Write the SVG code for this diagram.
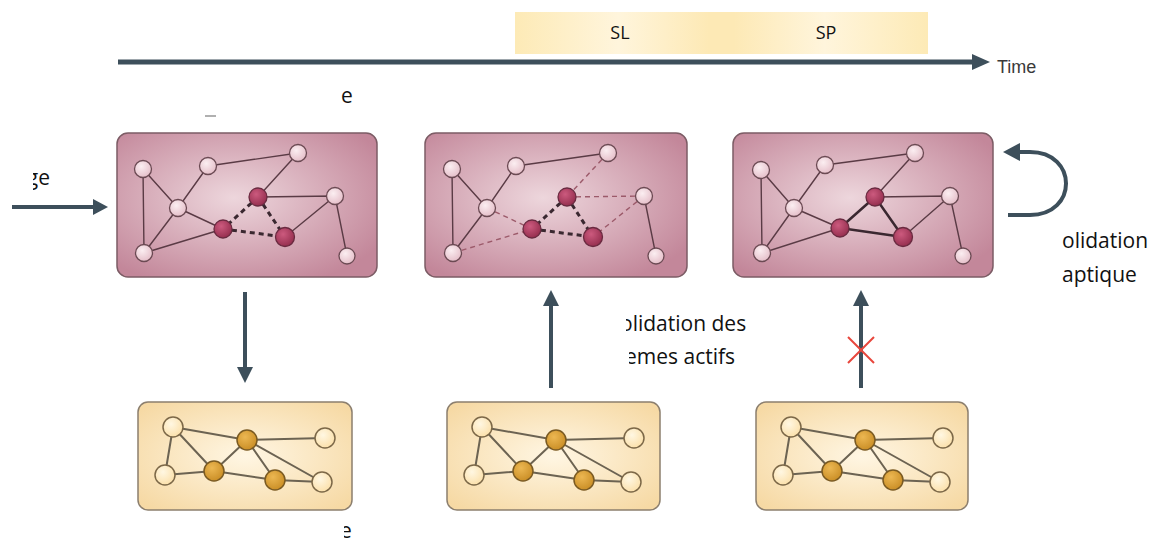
<svg xmlns="http://www.w3.org/2000/svg" width="1157" height="540" viewBox="0 0 1157 540">
<style>
  .lbl{font-family:"Open Sans","Liberation Sans",sans-serif;font-size:21px;fill:#111}
  .band{font-family:"Open Sans","Liberation Sans",sans-serif;font-size:18px;fill:#111;text-anchor:middle}
  .time{font-family:"Liberation Sans",Arial,sans-serif;font-size:18px;fill:#3a3a3a}
  .pbox{fill:url(#pinkBox);stroke:#7c5c65;stroke-width:1.5}
  .ybox{fill:url(#yelBox);stroke:#8c7f6e;stroke-width:1.5}
  .e{stroke:#5a3b45;stroke-width:1.4;fill:none}
  .ed{stroke:#9c5a6a;stroke-width:1.4;stroke-dasharray:5 4;fill:none}
  .eT{stroke:#3a2830;stroke-width:3;stroke-dasharray:5 4;fill:none}
  .eS{stroke:#3a2830;stroke-width:2.5;fill:none}
  .nl{fill:url(#pinkNode);stroke:#6b4a53;stroke-width:1.3}
  .nd{fill:url(#darkNode);stroke:#6a2a40;stroke-width:1.3}
  .ye{stroke:#6c6352;stroke-width:2;fill:none}
  .yl{fill:url(#yelNode);stroke:#7c6848;stroke-width:1.5}
  .yd{fill:url(#goldNode);stroke:#7a5a22;stroke-width:1.5}
  .arr{stroke:#3d4f5b;stroke-width:4;fill:none}
  .head{fill:#3d4f5b}
</style>
<defs>
  <radialGradient id="pinkBox" cx="0.45" cy="0.45" r="0.65">
    <stop offset="0" stop-color="#edd6dc"/>
    <stop offset="1" stop-color="#c3879a"/>
  </radialGradient>
  <radialGradient id="yelBox" cx="0.5" cy="0.5" r="0.65">
    <stop offset="0" stop-color="#fff6e3"/>
    <stop offset="1" stop-color="#f6d9a4"/>
  </radialGradient>
  <radialGradient id="pinkNode" cx="0.4" cy="0.35" r="0.7">
    <stop offset="0" stop-color="#fbeef1"/>
    <stop offset="1" stop-color="#e4bcc7"/>
  </radialGradient>
  <radialGradient id="darkNode" cx="0.4" cy="0.35" r="0.7">
    <stop offset="0" stop-color="#cc5a7e"/>
    <stop offset="1" stop-color="#922c4c"/>
  </radialGradient>
  <radialGradient id="yelNode" cx="0.4" cy="0.35" r="0.7">
    <stop offset="0" stop-color="#fff7e2"/>
    <stop offset="1" stop-color="#fbdfa8"/>
  </radialGradient>
  <radialGradient id="goldNode" cx="0.4" cy="0.35" r="0.7">
    <stop offset="0" stop-color="#ecb752"/>
    <stop offset="1" stop-color="#c88c24"/>
  </radialGradient>
  <linearGradient id="bandG" x1="0" y1="0" x2="1" y2="0">
    <stop offset="0" stop-color="#fdeab6"/>
    <stop offset="0.25" stop-color="#fff5dc"/>
    <stop offset="0.47" stop-color="#fde9b5"/>
    <stop offset="0.53" stop-color="#fde9b5"/>
    <stop offset="0.75" stop-color="#fff5dc"/>
    <stop offset="1" stop-color="#fdeab6"/>
  </linearGradient>
  <clipPath id="cGe"><rect x="33" y="150" width="40" height="50"/></clipPath>
  <clipPath id="cOl"><rect x="626" y="300" width="140" height="40"/></clipPath>
  <clipPath id="cEm"><rect x="629" y="340" width="140" height="40"/></clipPath>
  <clipPath id="cBe"><rect x="344" y="515" width="20" height="25"/></clipPath>
</defs>

<g id="timeline">
  <rect x="515" y="12" width="413" height="42" fill="url(#bandG)"/>
  <text class="band" x="620" y="39">SL</text>
  <text class="band" x="826" y="39">SP</text>
  <line x1="118" y1="62" x2="976" y2="62" stroke="#3d4f5b" stroke-width="5"/>
  <polygon class="head" points="990,62 972,54 972,70"/>
  <text class="time" x="997" y="73">Time</text>
</g>

<g id="labels">
  <text class="lbl" x="341" y="103">e</text>
  <line x1="205" y1="116" x2="216" y2="116" stroke="#b0b0b0" stroke-width="2"/>
  <text class="lbl" x="50" y="185" text-anchor="end" clip-path="url(#cGe)">ge</text>
  <text class="lbl" x="1062" y="248">olidation</text>
  <text class="lbl" x="1062" y="282">aptique</text>
  <text class="lbl" x="620" y="331" clip-path="url(#cOl)">olidation des</text>
  <text class="lbl" x="625" y="364" clip-path="url(#cEm)">emes actifs</text>
  <text class="lbl" x="340" y="538" clip-path="url(#cBe)">e</text>
</g>

<g id="box1" transform="translate(117,133)">
  <rect class="pbox" x="0" y="0" width="260" height="144" rx="11"/>
  <path class="e" d="M26 36L27 120M26 36L61 75M61 75L27 120M91 33L61 75M91 33L181 20M181 20L141 64M141 64L218 63M218 63L168 104M218 63L230 123M61 75L106 96M27 120L106 96"/>
  <path class="eT" d="M141 64L106 96M141 64L168 104M106 96L168 104"/>
  <circle class="nl" cx="26" cy="36" r="8.5"/><circle class="nl" cx="91" cy="33" r="8.5"/>
  <circle class="nl" cx="181" cy="20" r="8.5"/><circle class="nl" cx="61" cy="75" r="8.5"/>
  <circle class="nl" cx="218" cy="63" r="8.5"/><circle class="nl" cx="27" cy="120" r="8.5"/>
  <circle class="nl" cx="230" cy="123" r="8"/>
  <circle class="nd" cx="141" cy="64" r="9"/><circle class="nd" cx="106" cy="96" r="9"/>
  <circle class="nd" cx="168" cy="104" r="9.5"/>
</g>

<g id="box2" transform="translate(425,133)">
  <rect class="pbox" x="0" y="0" width="262" height="144" rx="11"/>
  <path class="e" d="M27 36L28 120M27 36L62 75M62 75L28 120M91 33L62 75M91 33L183 20M219 63L231 123"/>
  <path class="ed" d="M183 20L142 64M142 64L219 63M219 63L168 104M62 75L107 96M28 120L107 96"/>
  <path class="eT" d="M142 64L107 96M142 64L168 104M107 96L168 104"/>
  <circle class="nl" cx="27" cy="36" r="8.5"/><circle class="nl" cx="91" cy="33" r="8.5"/>
  <circle class="nl" cx="183" cy="20" r="8.5"/><circle class="nl" cx="62" cy="75" r="8.5"/>
  <circle class="nl" cx="219" cy="63" r="8.5"/><circle class="nl" cx="28" cy="120" r="8.5"/>
  <circle class="nl" cx="231" cy="123" r="8"/>
  <circle class="nd" cx="142" cy="64" r="9"/><circle class="nd" cx="107" cy="96" r="9"/>
  <circle class="nd" cx="168" cy="104" r="9.5"/>
</g>

<g id="box3" transform="translate(733,133)">
  <rect class="pbox" x="0" y="0" width="260" height="144" rx="11"/>
  <path class="e" d="M28 37L29 120M28 37L61 75M61 75L29 120M92 32L61 75M92 32L182 20M182 20L142 64M142 64L217 63M217 63L170 104M217 63L230 123M61 75L107 95M29 120L107 95"/>
  <path class="eS" d="M142 64L107 95M142 64L170 104M107 95L170 104"/>
  <circle class="nl" cx="28" cy="37" r="8.5"/><circle class="nl" cx="92" cy="32" r="8.5"/>
  <circle class="nl" cx="182" cy="20" r="8.5"/><circle class="nl" cx="61" cy="75" r="8.5"/>
  <circle class="nl" cx="217" cy="63" r="8.5"/><circle class="nl" cx="29" cy="120" r="8.5"/>
  <circle class="nl" cx="230" cy="123" r="8"/>
  <circle class="nd" cx="142" cy="64" r="9"/><circle class="nd" cx="107" cy="95" r="9"/>
  <circle class="nd" cx="170" cy="104" r="9.5"/>
</g>

<g id="bbox1" transform="translate(138,402)">
  <rect class="ybox" x="0" y="0" width="214" height="108" rx="10"/>
  <path class="ye" d="M35 25L109 38M35 25L76 69M35 25L27 73M27 73L76 69M76 69L109 38M109 38L187 36M109 38L137 78M109 38L184 80M76 69L137 78M137 78L184 80"/>
  <circle class="yl" cx="35" cy="25" r="10"/><circle class="yl" cx="187" cy="36" r="10"/>
  <circle class="yl" cx="27" cy="73" r="10"/><circle class="yl" cx="184" cy="80" r="10"/>
  <circle class="yd" cx="109" cy="38" r="10"/><circle class="yd" cx="76" cy="69" r="10"/>
  <circle class="yd" cx="137" cy="78" r="10"/>
</g>

<g id="bbox2" transform="translate(447,402)">
  <rect class="ybox" x="0" y="0" width="213" height="108" rx="10"/>
  <path class="ye" d="M35 25L109 38M35 25L76 69M35 25L27 73M27 73L76 69M76 69L109 38M109 38L187 36M109 38L137 78M109 38L184 80M76 69L137 78M137 78L184 80"/>
  <circle class="yl" cx="35" cy="25" r="10"/><circle class="yl" cx="187" cy="36" r="10"/>
  <circle class="yl" cx="27" cy="73" r="10"/><circle class="yl" cx="184" cy="80" r="10"/>
  <circle class="yd" cx="109" cy="38" r="10"/><circle class="yd" cx="76" cy="69" r="10"/>
  <circle class="yd" cx="137" cy="78" r="10"/>
</g>

<g id="bbox3" transform="translate(756,402)">
  <rect class="ybox" x="0" y="0" width="212" height="108" rx="10"/>
  <path class="ye" d="M35 25L109 38M35 25L76 69M35 25L27 73M27 73L76 69M76 69L109 38M109 38L187 36M109 38L137 78M109 38L184 80M76 69L137 78M137 78L184 80"/>
  <circle class="yl" cx="35" cy="25" r="10"/><circle class="yl" cx="187" cy="36" r="10"/>
  <circle class="yl" cx="27" cy="73" r="10"/><circle class="yl" cx="184" cy="80" r="10"/>
  <circle class="yd" cx="109" cy="38" r="10"/><circle class="yd" cx="76" cy="69" r="10"/>
  <circle class="yd" cx="137" cy="78" r="10"/>
</g>

<g id="connectors">
  <line class="arr" x1="12" y1="207" x2="95" y2="207"/>
  <polygon class="head" points="108,207 93,199 93,215"/>
  <line class="arr" x1="245" y1="292" x2="245" y2="370"/>
  <polygon class="head" points="245,383 237,367 253,367"/>
  <line class="arr" x1="551" y1="388" x2="551" y2="303"/>
  <polygon class="head" points="551,290 543,306 559,306"/>
  <line class="arr" x1="861" y1="388" x2="861" y2="303"/>
  <polygon class="head" points="861,290 853,306 869,306"/>
  <path d="M848 337L874 363M874 337L848 363" stroke="#e8463c" stroke-width="2" fill="none"/>
  <path class="arr" d="M1008 215L1030 215C1078 215 1078 152 1030 152L1017 152"/>
  <polygon class="head" points="1003,152 1020,143 1020,161"/>
</g>
</svg>
